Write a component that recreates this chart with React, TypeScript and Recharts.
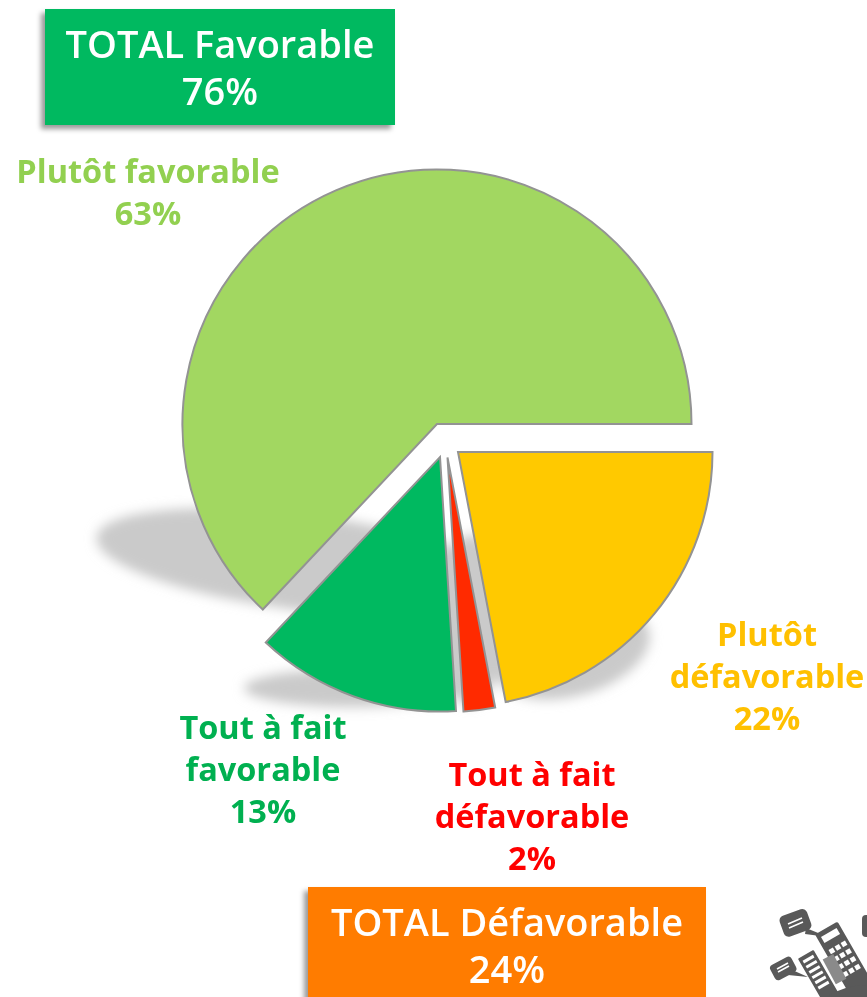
import React from "react";
import { Cell, Pie, PieChart, Sector } from "recharts";

const categories = ["Plutôt favorable", "Tout à fait favorable", "Tout à fait défavorable", "Plutôt défavorable"];
const values = [63, 13, 2, 22];
const sliceColors = ["#A2D761", "#00B960", "#FF2A00", "#FFC900"];
const labelColors = ["#92D050", "#00B050", "#FF0000", "#FFC000"];
const labelLines = [["Plutôt favorable"], ["Tout à fait", "favorable"], ["Tout à fait", "défavorable"], ["Plutôt", "défavorable"]];
const totalLabels = ["TOTAL Favorable", "TOTAL Défavorable"];
const totalValues = [76, 24];

const W = 867;
const H = 997;
const FONT = "'Open Sans', 'Noto Sans', sans-serif";

// how far each slice is pulled out of the pie
const explode = [
  { dx: 0, dy: 0 },
  { dx: 3, dy: 33 },
  { dx: 10.5, dy: 33.5 },
  { dx: 21, dy: 28 }
];
const labelPos = [
  { x: 148, y: 183 },
  { x: 263, y: 739 },
  { x: 532, y: 786 },
  { x: 767, y: 646 }
];

const rows = categories.map((name, i) => ({ name, value: values[i] }));

function ExplodedSlice(props: any) {
  const i = categories.indexOf(props.name);
  const off = explode[i < 0 ? 0 : i];
  return <Sector {...props} cx={props.cx + off.dx} cy={props.cy + off.dy} />;
}

function Shadows() {
  return (
    <svg width={W} height={H} style={{ position: "absolute", left: 0, top: 0 }}>
      <defs>
        <filter id="soft" x="-20%" y="-40%" width="140%" height="180%">
          <feGaussianBlur stdDeviation="6" />
        </filter>
      </defs>
      <g fill="#cacaca" filter="url(#soft)">
        <ellipse cx={300} cy={562} rx={205} ry={48} transform="rotate(7 300 562)" />
        <ellipse cx={352} cy={688} rx={108} ry={19} />
        <ellipse cx={572} cy={652} rx={80} ry={44} transform="rotate(-16 572 652)" />
        <ellipse cx={470} cy={620} rx={35} ry={85} />
      </g>
    </svg>
  );
}

function Logo() {
  const c = "#595959";
  return (
    <g fill={c}>
      <rect x={781} y={912} width={29} height={22} rx={5} transform="rotate(-20 795 923)" />
      <path d="M806 928 L828 937 L805 934 Z" />
      <rect x={771} y={960} width={24} height={17} rx={4} transform="rotate(-28 783 968)" />
      <path d="M790 969 L808 977 L788 975 Z" />
      <g transform="rotate(-30 847 960)">
        <rect x={832} y={922} width={26} height={80} rx={2} />
        <rect x={836} y={927} width={18} height={7} fill="#fff" />
        {[0, 1, 2, 3].map((r) => (
          <g key={r} fill="#fff">
            <rect x={836} y={942 + r * 9} width={5} height={5} />
            <rect x={843} y={942 + r * 9} width={5} height={5} />
            <rect x={850} y={942 + r * 9} width={5} height={5} />
          </g>
        ))}
      </g>
      <g transform="rotate(-30 820 975)">
        <rect x={809} y={950} width={18} height={50} rx={1} />
        {[0, 1, 2, 3, 4, 5].map((r) => (
          <rect key={r} x={812} y={954 + r * 6} width={12} height={3} fill="#fff" />
        ))}
      </g>
      <g transform="rotate(-28 835 970)">
        <rect x={829} y={955} width={12} height={28} fill="#8a8a8a" />
      </g>
      <path d="M826 997 Q845 985 867 985 L867 997 Z" />
      <rect x={862} y={915} width={8} height={22} rx={4} />
      <g stroke="#fff" strokeWidth={1.6}>
        <path d="M788 924 L802 918 M789 928 L803 922 M777 969 L788 963 M778 972 L789 966" />
      </g>
    </g>
  );
}

function TotalBox({ i, left, top, width, height, bg }: any) {
  return (
    <div
      style={{
        position: "absolute",
        left,
        top,
        width,
        height,
        background: bg,
        color: "#fff",
        boxShadow: "-4px 4px 5px rgba(0,0,0,0.4)",
        textAlign: "center",
        fontFamily: FONT,
        fontWeight: 600,
        fontSize: 38,
        lineHeight: "47px",
        paddingTop: 11,
        boxSizing: "border-box"
      }}
    >
      <div style={{ whiteSpace: "nowrap" }}>{totalLabels[i]}</div>
      <div>{totalValues[i]}%</div>
    </div>
  );
}

export default function App() {
  return (
    <div style={{ position: "absolute", left: 0, top: 0, width: W, height: H, overflow: "hidden", background: "#fff" }}>
      <Shadows />
      <div style={{ position: "absolute", left: 0, top: 0 }}>
        <PieChart width={W} height={H} margin={{ top: 0, right: 0, bottom: 0, left: 0 }}>
          <Pie
            data={rows}
            dataKey="value"
            nameKey="name"
            cx={437}
            cy={424}
            innerRadius={0}
            outerRadius={254.5}
            startAngle={0}
            endAngle={360}
            stroke="#939393"
            strokeWidth={2}
            shape={ExplodedSlice}
            isAnimationActive={false}
          >
            {rows.map((row, i) => (
              <Cell key={row.name} fill={sliceColors[i]} />
            ))}
          </Pie>
        </PieChart>
      </div>
      <svg width={W} height={H} style={{ position: "absolute", left: 0, top: 0 }}>
        {labelLines.map((lines, i) => (
          <text
            key={categories[i]}
            textAnchor="middle"
            fontFamily={FONT}
            fontWeight={700}
            fontSize={32.5}
            fill={labelColors[i]}
          >
            {[...lines, `${values[i]}%`].map((line, j) => (
              <tspan key={j} x={labelPos[i].x} y={labelPos[i].y + j * 42}>
                {line}
              </tspan>
            ))}
          </text>
        ))}
        <Logo />
      </svg>
      <TotalBox i={0} left={45} top={9} width={350} height={116} bg="#00B960" />
      <TotalBox i={1} left={308} top={887} width={398} height={120} bg="#FF7C00" />
    </div>
  );
}
